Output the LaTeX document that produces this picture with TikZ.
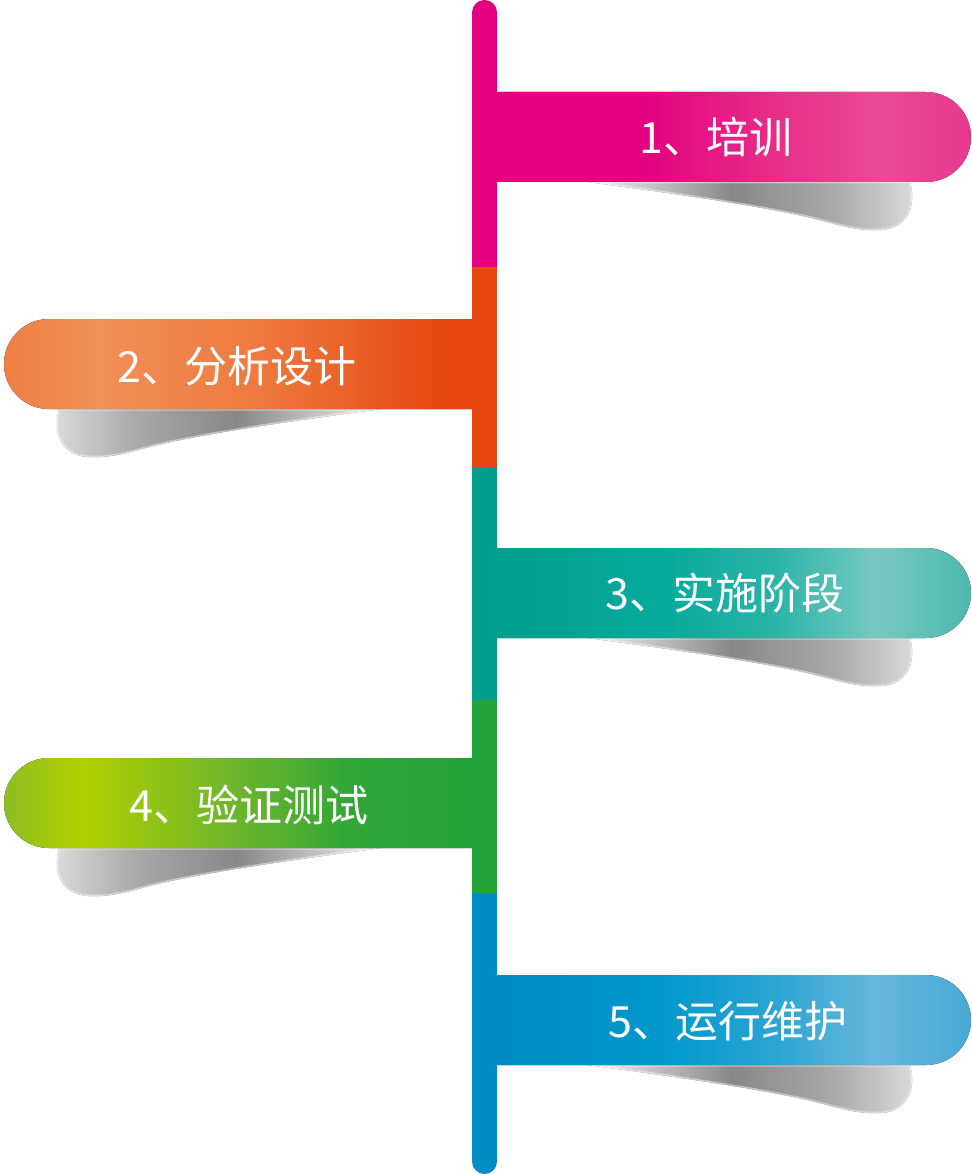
\documentclass[tikz,border=0pt]{standalone}
\usepackage{fontspec}
\newfontfamily\cjk{Noto Sans CJK SC}
\usepackage{tikz}
\usetikzlibrary{positioning}

\definecolor{pinkbar}{HTML}{E4007F}
\definecolor{pinkmid}{HTML}{E72D89}
\definecolor{pinklight}{HTML}{EA4A95}
\definecolor{pinkend}{HTML}{E8388E}
\definecolor{orangebar}{HTML}{E6470E}
\definecolor{orangemid}{HTML}{EE7A40}
\definecolor{orangelight}{HTML}{F19057}
\definecolor{orangeend}{HTML}{EE7F45}
\definecolor{tealbar}{HTML}{009E8E}
\definecolor{tealmid}{HTML}{06AA9C}
\definecolor{teallight}{HTML}{78C9C0}
\definecolor{tealend}{HTML}{4DB8AD}
\definecolor{greenbar}{HTML}{22A23A}
\definecolor{greenmid}{HTML}{6CB52C}
\definecolor{greenlight}{HTML}{B2D000}
\definecolor{greenend}{HTML}{8CBE22}
\definecolor{bluebar}{HTML}{008CC5}
\definecolor{bluemid}{HTML}{0098CC}
\definecolor{bluelight}{HTML}{68B7DD}
\definecolor{blueend}{HTML}{47A9D6}
\definecolor{shadeA}{HTML}{F2F2F2}
\definecolor{shadeB}{HTML}{8A8787}
\definecolor{shadeC}{HTML}{A9A7A7}
\definecolor{shadeD}{HTML}{DCDCDC}

\pgfdeclarehorizontalshading{pinktab}{100bp}{color(0bp)=(pinkbar); color(40bp)=(pinkbar); color(54bp)=(pinkmid); color(65bp)=(pinklight); color(75bp)=(pinkend); color(100bp)=(pinkend)}
\pgfdeclarehorizontalshading{orangetab}{100bp}{color(0bp)=(orangeend); color(25bp)=(orangeend); color(35bp)=(orangelight); color(52bp)=(orangemid); color(72bp)=(orangebar); color(100bp)=(orangebar)}
\pgfdeclarehorizontalshading{tealtab}{100bp}{color(0bp)=(tealbar); color(25bp)=(tealbar); color(42bp)=(tealmid); color(54bp)=(tealmid!70!teallight); color(65bp)=(teallight); color(75bp)=(tealend); color(100bp)=(tealend)}
\pgfdeclarehorizontalshading{greentab}{100bp}{color(0bp)=(greenend); color(25bp)=(greenend); color(33bp)=(greenlight); color(50bp)=(greenmid); color(62bp)=(greenbar!80!greenmid); color(75bp)=(greenbar); color(100bp)=(greenbar)}
\pgfdeclarehorizontalshading{bluetab}{100bp}{color(0bp)=(bluebar); color(25bp)=(bluebar); color(42bp)=(bluemid); color(54bp)=(bluemid!60!bluelight); color(65bp)=(bluelight); color(75bp)=(blueend); color(100bp)=(blueend)}
\pgfdeclarehorizontalshading{shadowR}{100bp}{color(0bp)=(shadeA); color(25bp)=(shadeA); color(47bp)=(shadeB); color(62bp)=(shadeC); color(75bp)=(shadeD); color(100bp)=(shadeD)}
\pgfdeclarehorizontalshading{shadowL}{100bp}{color(0bp)=(shadeD); color(25bp)=(shadeD); color(38bp)=(shadeC); color(53bp)=(shadeB); color(75bp)=(shadeA); color(100bp)=(shadeA)}

% shadow under a tab: pole edge x, tab bottom y, side (1 or -1), shading
\newcommand{\tabshadow}[4]{%
  \fill[shading=#4, postaction={draw=white, opacity=0.45, line width=3pt}]
    ({#1+(#3)*90},#2) .. controls ({#1+(#3)*180},{#2-12}) and ({#1+(#3)*280},{#2-26}) .. ({#1+(#3)*330},{#2-40})
    .. controls ({#1+(#3)*355},{#2-47}) and ({#1+(#3)*370},{#2-49}) .. ({#1+(#3)*385},{#2-48})
    .. controls ({#1+(#3)*410},{#2-46}) and ({#1+(#3)*420},{#2-25}) .. ({#1+(#3)*413},#2) -- cycle;}

\tikzset{
  steptext/.style={text=white, inner sep=0pt, font=\cjk\fontsize{43}{43}\selectfont},
}

\begin{document}
\begin{tikzpicture}[x=1pt,y=1pt]
	\useasboundingbox (0,0) rectangle (971,-1174);

	% shadows
	\tabshadow{497}{-182}{1}{shadowR}
	\tabshadow{472}{-409}{-1}{shadowL}
	\tabshadow{497}{-638}{1}{shadowR}
	\tabshadow{472}{-848}{-1}{shadowL}
	\tabshadow{497}{-1065}{1}{shadowR}

	% tabs
	\fill[shading=pinktab] (497,-92) -- (926,-92) arc[start angle=90,end angle=-90,radius=45] -- (497,-182) -- cycle;
	\fill[shading=orangetab] (472,-319) -- (49,-319) arc[start angle=90,end angle=270,radius=45] -- (472,-409) -- cycle;
	\fill[shading=tealtab] (497,-548) -- (926,-548) arc[start angle=90,end angle=-90,radius=45] -- (497,-638) -- cycle;
	\fill[shading=greentab] (472,-758) -- (49,-758) arc[start angle=90,end angle=270,radius=45] -- (472,-848) -- cycle;
	\fill[shading=bluetab] (497,-975) -- (926,-975) arc[start angle=90,end angle=-90,radius=45] -- (497,-1065) -- cycle;

	% pole
	\fill[pinkbar] (472,-267) -- (472,-12.5) arc[start angle=180,end angle=0,radius=12.5] -- (497,-267) -- cycle;
	\fill[orangebar] (472,-267) rectangle (497,-467);
	\fill[tealbar] (472,-467) rectangle (497,-700);
	\fill[greenbar] (472,-700) rectangle (497,-893);
	\fill[bluebar] (472,-893) -- (472,-1161.5) arc[start angle=180,end angle=360,radius=12.5] -- (497,-893) -- cycle;

	\node (train) [steptext] at (716,-137) {1、培训};
	\node (design) [steptext] at (237,-366) {2、分析设计};
	\node (build) [steptext] at (725,-593) {3、实施阶段};
	\node (test) [steptext] at (249,-805) {4、验证测试};
	\node (run) [steptext] at (728,-1021) {5、运行维护};
\end{tikzpicture}
\end{document}
